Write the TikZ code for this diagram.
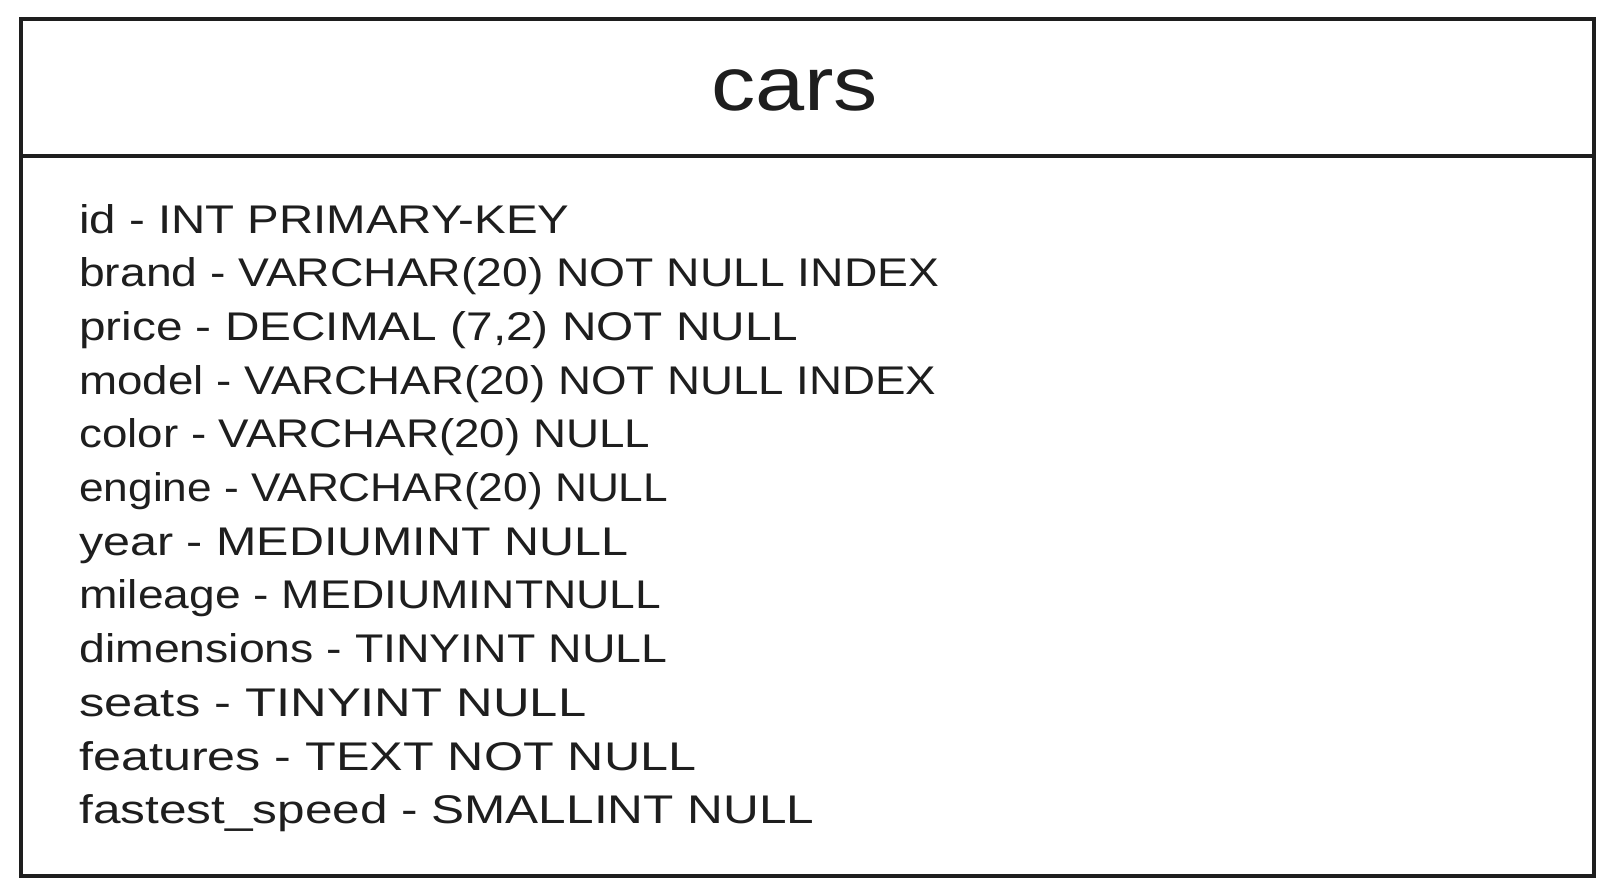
\documentclass[tikz,border=0pt]{standalone}
\usepackage{fontspec}
\setmainfont{Liberation Sans}
\usepackage{graphicx}
\definecolor{ink}{HTML}{1E1E1E}
\newsavebox\fitbox
\newcommand\fitto[2]{\sbox\fitbox{#2}\dimen0=\wd\fitbox\edef\natw{\the\dimen0}%
  \pgfmathparse{#1*0.75/\natw}\scalebox{\pgfmathresult}[1]{\usebox\fitbox}}
\tikzset{
  frame/.style={draw=ink, line width=2.4pt},
  row/.style={anchor=base west, inner sep=0pt, text=ink, font=\fontsize{30}{36}\selectfont},
  titletext/.style={anchor=base, inner sep=0pt, text=ink, font=\fontsize{57}{66}\selectfont}
}
\begin{document}
\begin{tikzpicture}[x=0.75pt,y=-0.75pt]
\useasboundingbox (0,0) rectangle (1615,895);
\fill[white] (0,0) rectangle (1615,895);
\draw[frame] (21,19) rectangle (1594,876);
\coordinate (dl) at (21,156);
\coordinate (dr) at (1594,156);
\draw[frame] (dl) -- (dr);
\node[titletext] (title) at (794.6,111) {\fitto{167}{cars}};
\node[row] (r1) at (79,233.0) {\fitto{490}{id - INT PRIMARY-KEY}};
\node[row] (r2) at (79,286.7) {\fitto{860}{brand - VARCHAR(20) NOT NULL INDEX}};
\node[row] (r3) at (79,340.4) {\fitto{719}{price - DECIMAL (7,2) NOT NULL}};
\node[row] (r4) at (79,394.1) {\fitto{857}{model - VARCHAR(20) NOT NULL INDEX}};
\node[row] (r5) at (79,447.8) {\fitto{571}{color - VARCHAR(20) NULL}};
\node[row] (r6) at (79,501.5) {\fitto{589}{engine - VARCHAR(20) NULL}};
\node[row] (r7) at (79,555.2) {\fitto{549}{year - MEDIUMINT NULL}};
\node[row] (r8) at (79,608.9) {\fitto{582}{mileage - MEDIUMINTNULL}};
\node[row] (r9) at (79,662.6) {\fitto{588}{dimensions - TINYINT NULL}};
\node[row] (r10) at (79,716.3) {\fitto{507}{seats - TINYINT NULL}};
\node[row] (r11) at (79,770.0) {\fitto{617}{features - TEXT NOT NULL}};
\node[row] (r12) at (79,823.7) {\fitto{735}{fastest\_speed - SMALLINT NULL}};
\end{tikzpicture}
\end{document}
